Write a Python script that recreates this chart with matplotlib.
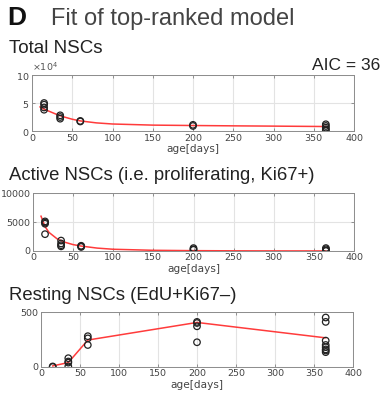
import numpy as np
import matplotlib.pyplot as plt

# observed data (age in days, cell counts)
total_age = [15, 15, 15, 15, 35, 35, 35, 60, 60, 200, 200, 365, 365, 365, 365, 365]
total_val = [50000, 47000, 42000, 38000, 28000, 25000, 22000, 18000, 17000,
             11000, 9000, 12000, 9000, 6000, 3000, 1000]
total_fit_age = [10, 15, 20, 30, 40, 50, 60, 80, 100, 150, 200, 250, 300, 365]
total_fit_val = [43000, 39000, 36000, 30000, 25000, 21000, 18000, 14500, 12500,
                 10500, 9800, 9200, 8700, 8000]

active_age = [15, 15, 15, 15, 35, 35, 35, 35, 60, 60, 60, 200, 200, 200, 365, 365, 365, 365]
active_val = [5100, 4900, 4700, 2900, 1800, 1300, 1000, 800, 900, 800, 700,
              500, 300, 200, 500, 300, 100, 0]
active_fit_age = [10, 15, 20, 30, 40, 50, 60, 80, 100, 150, 200, 250, 300, 365]
active_fit_val = [6000, 4200, 3200, 2100, 1500, 1100, 850, 500, 300, 120, 60, 30, 15, 10]

resting_age = [15, 15, 35, 35, 35, 35, 60, 60, 60, 200, 200, 200, 200,
               365, 365, 365, 365, 365, 365, 365, 365]
resting_val = [5, 0, 80, 50, 40, 5, 280, 260, 200, 410, 400, 370, 225,
               450, 410, 240, 200, 180, 160, 150, 135]
resting_fit_age = [15, 35, 60, 200, 365]
resting_fit_val = [10, 40, 245, 405, 265]

xticks = [0, 50, 100, 150, 200, 250, 300, 350, 400]

W, H = 385, 396
fig = plt.figure(figsize=(W / 100, H / 100), dpi=100)

tick_font = 'DejaVu Sans'
title_font = 'Liberation Sans'


def make_axes(l, r, t, b):
    return fig.add_axes([l / W, 1 - b / H, (r - l) / W, (b - t) / H])


def style(ax, yticks, ylim):
    ax.set_xlim(0, 400)
    ax.set_ylim(*ylim)
    ax.set_xticks(xticks)
    ax.set_yticks(yticks)
    ax.grid(True, color='#e3e3e3', linewidth=0.8)
    ax.set_axisbelow(True)
    ax.tick_params(direction='in', length=2.5, width=0.6, top=True, right=True,
                   labelsize=6.8, colors='#808080', labelcolor='#444444', pad=1.8)
    for lab in ax.get_xticklabels() + ax.get_yticklabels():
        lab.set_family(tick_font)
    for s in ax.spines.values():
        s.set_color('#8c8c8c')
        s.set_linewidth(0.7)
    ax.set_xlabel('age[days]', fontsize=7.6, family=tick_font, color='#444444', labelpad=1)


def draw(ax, age, val, fage, fval):
    ax.plot(fage, fval, color='#ff3b3b', linewidth=1.1, zorder=2)
    ax.scatter(age, val, s=22, facecolors='none', edgecolors='#222222',
               linewidths=0.9, zorder=3)


ax1 = make_axes(32, 354, 75, 131)
draw(ax1, total_age, total_val, total_fit_age, total_fit_val)
style(ax1, [0, 50000, 100000], (0, 100000))
ax1.ticklabel_format(axis='y', style='sci', scilimits=(4, 4), useMathText=True)
ax1.yaxis.get_offset_text().set_fontsize(6.8)
ax1.yaxis.get_offset_text().set_color('#555555')

ax2 = make_axes(33, 354, 193, 251)
draw(ax2, active_age, active_val, active_fit_age, active_fit_val)
style(ax2, [0, 5000, 10000], (0, 10000))

ax3 = make_axes(41, 353, 312, 367)
draw(ax3, resting_age, resting_val, resting_fit_age, resting_fit_val)
style(ax3, [0, 500], (0, 500))


# panel texts
def ftext(x, y, s, color='#222222', **kw):
    fig.text(x / W, 1 - y / H, s, family=title_font, color=color, va='baseline', **kw)


ftext(7, 25, 'D', fontsize=19, weight='bold', color='#111111')
ftext(51, 25, 'Fit of top-ranked model', fontsize=17, color='#444444')
ftext(9, 53, 'Total NSCs', fontsize=13.5)
ftext(380, 70, 'AIC = 36', fontsize=12.5, ha='right')
ftext(9, 180, 'Active NSCs (i.e. proliferating, Ki67+)', fontsize=13.3)
ftext(9, 300, 'Resting NSCs (EdU+Ki67\u2013)', fontsize=13.3)

fig.savefig('out.png', dpi=100)
